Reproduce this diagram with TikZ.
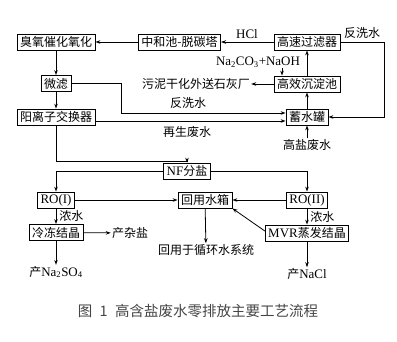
\documentclass[tikz,border=0pt]{standalone}
\usepackage{fontspec}
\setmainfont{Liberation Serif}[Scale=1.08]
\newfontfamily\cjk{Noto Sans CJK SC}
\usetikzlibrary{arrows.meta}
\definecolor{captiongray}{RGB}{70,70,70}

\begin{document}
\begin{tikzpicture}[x=1pt, y=-1pt,
    box/.style={draw, line width=0.8pt, inner xsep=3pt, inner ysep=0pt, minimum height=16pt, font=\fontsize{12}{13}\selectfont},
    lbl/.style={inner sep=1pt, font=\fontsize{12}{13}\selectfont},
    flow/.style={line width=0.8pt, -{Stealth[length=5pt, width=3.5pt]}}]

\useasboundingbox (0,0) rectangle (397,341);

%Top row
\node[box] (ozone) at (56, 42) {\cjk 臭氧催化氧化};
\node[box] (neutral) at (179.5, 42) {\cjk 中和池-脱碳塔};
\node[box] (hsf) at (307, 42) {\cjk 高速过滤器};
\node[lbl] (hcl) at (247, 34) {HCl};
\node[lbl] (bwtop) at (362, 33) {\cjk 反洗水};

%Second row
\node[box] (mf) at (56, 83.5) {\cjk 微滤};
\node[box] (sed) at (307, 84) {\cjk 高效沉淀池};
\node[lbl] (dosing) at (258, 62) {Na\textsubscript{2}CO\textsubscript{3}+NaOH};
\node[lbl] (sludge) at (196, 84) {\cjk 污泥干化外送石灰厂};

%Third row
\node[box] (cation) at (56, 117) {\cjk 阳离子交换器};
\node[box] (tank) at (307, 117) {\cjk 蓄水罐};
\node[lbl] (bwmid) at (188, 103) {\cjk 反洗水};
\node[lbl] (regen) at (187, 132) {\cjk 再生废水};
\node[lbl] (saltw) at (307, 145) {\cjk 高盐废水};

%Membrane part
\node[box] (nf) at (187, 171) {NF{\cjk 分盐}};
\node[box] (ro1) at (56, 200) {RO(I)};
\node[box] (reuse) at (205, 200) {\cjk 回用水箱};
\node[box] (ro2) at (307, 200) {RO(II)};

%Crystallisation
\node[box] (freeze) at (56, 232.5) {\cjk 冷冻结晶};
\node[box] (mvr) at (307, 233) {MVR{\cjk 蒸发结晶}};
\node[lbl] (mixsalt) at (130, 233) {\cjk 产杂盐};
\node[lbl] (na2so4) at (56, 272) {{\cjk 产}Na\textsubscript{2}SO\textsubscript{4}};
\node[lbl] (recycle) at (206, 250) {\cjk 回用于循环水系统};
\node[lbl] (nacl) at (307, 274) {{\cjk 产}NaCl};

%Connectors, top loop
\draw[flow] (neutral) -- (ozone);
\draw[flow] (hsf) -- (neutral);
\draw[flow] (hsf.east) -- ++(44,0) |- (tank.east);
\draw[flow] (sed) -- (hsf);
\draw[flow] (tank) -- (sed);
\draw[flow] (saltw) -- (tank);
\draw[flow] ([xshift=24pt]dosing.south) -- ([xshift=24pt]dosing.south |- sed.north);
\draw[flow] (sed) -- (sludge);

%Connectors, left column
\draw[flow] (ozone) -- (mf);
\draw[flow] (mf) -- (cation);
\draw[flow] (mf.east) -- ++(50,0) |- ([yshift=4pt]tank.west);
\draw[flow] ([yshift=-4pt]cation.east) -- ([yshift=-4pt]tank.west);
\draw[flow] (cation.south) -- ++(0,36) -| (nf.north);

%Connectors, membranes
\draw[flow] (nf.west) -| (ro1.north);
\draw[flow] (nf.east) -| (ro2.north);
\draw[flow] (ro1) -- (reuse);
\draw[flow] (ro2) -- (reuse);
\draw[flow] (ro1) -- node[lbl, right=2pt] {\cjk 浓水} (freeze);
\draw[flow] (ro2) -- node[lbl, right=2pt] {\cjk 浓水} (mvr);
\draw[flow] (freeze) -- (mixsalt);
\draw[flow] (freeze) -- (na2so4);
\draw[flow] (reuse) -- (recycle);
\draw[flow] ([yshift=2pt]mvr.west) -- (reuse.south east);
\draw[flow] (mvr) -- (nacl);

\node[font=\fontsize{14.5}{15}\selectfont\cjk, text=captiongray] (caption) at (198, 311) {图\hspace{0.5em}1\hspace{0.5em}高含盐废水零排放主要工艺流程};
\end{tikzpicture}
\end{document}
